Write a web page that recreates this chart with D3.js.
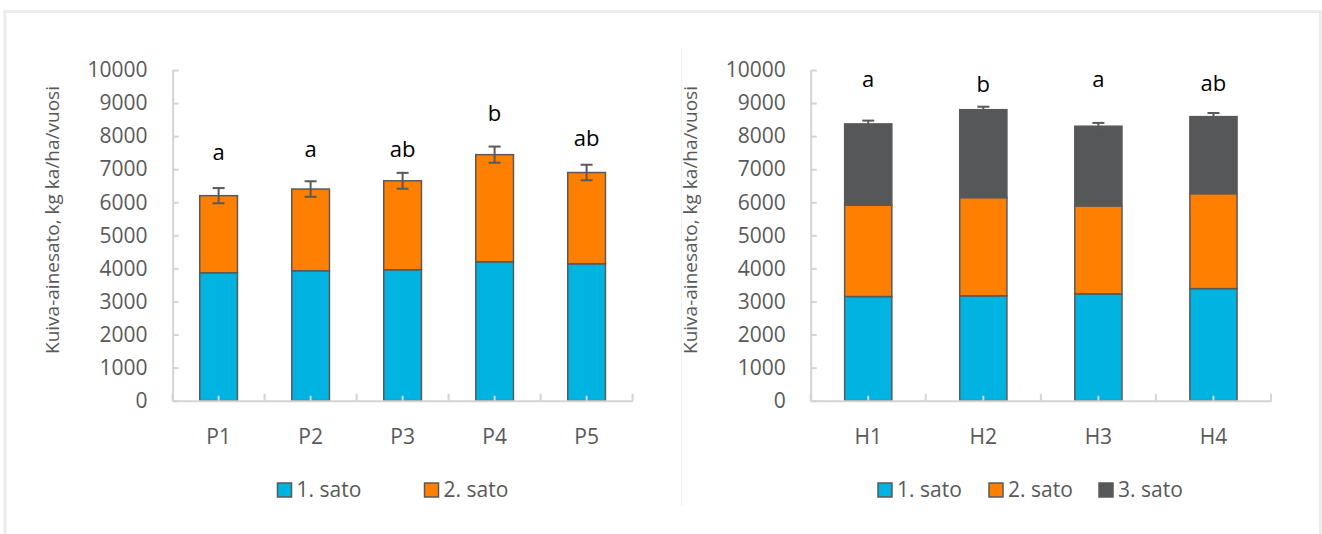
<!DOCTYPE html>
<html>
<head>
<meta charset="utf-8">
<script src="https://cdn.jsdelivr.net/npm/d3@7"></script>
<style>
  body { margin: 0; background: #fff; }
  svg text { font-family: "Open Sans", "Noto Sans", sans-serif; }
</style>
</head>
<body>
<div id="chart"></div>
<script>
// left chart: P treatments, two harvests
var pCats = ['P1', 'P2', 'P3', 'P4', 'P5'];
var pSato1 = [3870, 3930, 3960, 4200, 4140];
var pSato2 = [2330, 2470, 2690, 3240, 2760];
var pErr = [230, 235, 240, 245, 235];
var pLetters = ['a', 'a', 'ab', 'b', 'ab'];
var pLetterAt = [7280, 7380, 7380, 8470, 7710];

// right chart: H treatments, three harvests
var hCats = ['H1', 'H2', 'H3', 'H4'];
var hSato1 = [3150, 3170, 3230, 3390];
var hSato2 = [2760, 2970, 2660, 2870];
var hSato3 = [2460, 2660, 2410, 2330];
var hErr = [100, 90, 100, 110];
var hLetters = ['a', 'b', 'a', 'ab'];
var hLetterAt = [9490, 9345, 9490, 9375];

var yTicks = [0, 1000, 2000, 3000, 4000, 5000, 6000, 7000, 8000, 9000, 10000];
var seriesNames = ['1. sato', '2. sato', '3. sato'];
var colors = ['#00B3E0', '#FF8000', '#555759'];
var yTitle = 'Kuiva-ainesato, kg ka/ha/vuosi';

var width = 1322, height = 534;
var textGray = '#595959', axisGray = '#d4d4d4';
var fontSize = 21;

var svg = d3.select('#chart')
    .append('svg')
    .attr('width', width)
    .attr('height', height);

// outer frame
var frame = svg.append('g').attr('stroke', '#ededed').attr('fill', 'none');
frame.append('line').attr('x1', 3).attr('x2', 1322).attr('y1', 11.5).attr('y2', 11.5).attr('stroke-width', 3);
frame.append('line').attr('x1', 5).attr('x2', 5).attr('y1', 10).attr('y2', 534).attr('stroke-width', 3);
frame.append('line').attr('x1', 1320.5).attr('x2', 1320.5).attr('y1', 10).attr('y2', 534).attr('stroke-width', 3);
svg.append('line').attr('x1', 681.5).attr('x2', 681.5).attr('y1', 48).attr('y2', 506)
    .attr('stroke', '#f0f0f0').attr('stroke-width', 1);

function drawChart(cfg) {
    var g = svg.append('g');
    var rows = cfg.cats.map(function (c, i) {
        var r = { cat: c };
        cfg.series.forEach(function (s, k) { r[seriesNames[k]] = s[i]; });
        return r;
    });
    var keys = seriesNames.slice(0, cfg.series.length);

    var x = d3.scaleBand()
        .domain(cfg.cats)
        .range([cfg.x0, cfg.x1])
        .paddingInner(0.59)
        .paddingOuter(0.295);
    var y = d3.scaleLinear().domain([0, 10000]).range([400.7, 70]);

    // y axis
    var yAxis = g.append('g')
        .attr('transform', 'translate(' + cfg.x0 + ',0)')
        .call(d3.axisLeft(y).tickValues(yTicks).tickFormat(d3.format('d'))
            .tickSizeInner(-6).tickSizeOuter(0).tickPadding(25));
    yAxis.select('.domain').attr('stroke', axisGray).attr('stroke-width', 2);
    yAxis.selectAll('.tick line').attr('stroke', axisGray).attr('stroke-width', 2);
    yAxis.selectAll('text').attr('fill', textGray).attr('font-size', fontSize);

    // stacked bars
    var stacked = d3.stack().keys(keys)(rows);
    g.append('g').selectAll('g')
        .data(stacked)
        .enter().append('g')
        .attr('fill', function (d, i) { return colors[i]; })
        .selectAll('rect')
        .data(function (d) { return d; })
        .enter().append('rect')
        .attr('x', function (d) { return x(d.data.cat); })
        .attr('width', x.bandwidth())
        .attr('y', function (d) { return y(d[1]); })
        .attr('height', function (d) { return y(d[0]) - y(d[1]); })
        .attr('stroke', textGray)
        .attr('stroke-width', 1.5);

    // x axis
    var xAxis = g.append('g')
        .attr('transform', 'translate(0,' + y(0) + ')')
        .call(d3.axisBottom(x).tickSizeInner(-5).tickSizeOuter(0).tickPadding(28));
    xAxis.select('.domain').attr('stroke', axisGray).attr('stroke-width', 2);
    xAxis.selectAll('.tick line').attr('stroke', axisGray).attr('stroke-width', 2);
    xAxis.selectAll('text').attr('fill', textGray).attr('font-size', fontSize);
    // tick marks between categories
    var bounds = d3.range(cfg.cats.length + 1).map(function (i) { return cfg.x0 + i * x.step(); });
    xAxis.selectAll('.bound')
        .data(bounds)
        .enter().append('line')
        .attr('x1', function (d) { return d; })
        .attr('x2', function (d) { return d; })
        .attr('y1', 0).attr('y2', -7)
        .attr('stroke', axisGray).attr('stroke-width', 2);

    // error bars
    var totals = rows.map(function (r) { return d3.sum(keys, function (k) { return r[k]; }); });
    var eb = g.append('g').attr('stroke', textGray).attr('stroke-width', 2);
    cfg.cats.forEach(function (c, i) {
        var cx = x(c) + x.bandwidth() / 2;
        var lo = y(totals[i] - cfg.err[i]), hi = y(totals[i] + cfg.err[i]);
        eb.append('line').attr('x1', cx).attr('x2', cx).attr('y1', lo).attr('y2', hi);
        eb.append('line').attr('x1', cx - 6).attr('x2', cx + 6).attr('y1', lo).attr('y2', lo);
        eb.append('line').attr('x1', cx - 6).attr('x2', cx + 6).attr('y1', hi).attr('y2', hi);
    });

    // significance letters
    g.append('g').selectAll('text')
        .data(cfg.cats)
        .enter().append('text')
        .attr('x', function (d) { return x(d) + x.bandwidth() / 2; })
        .attr('y', function (d, i) { return y(cfg.letterAt[i]); })
        .attr('text-anchor', 'middle')
        .attr('font-size', 22)
        .attr('fill', '#000')
        .text(function (d, i) { return cfg.letters[i]; });

    // y title
    g.append('text')
        .attr('transform', 'translate(' + (cfg.x0 - 113.5) + ',220) rotate(-90)')
        .attr('text-anchor', 'middle')
        .attr('font-size', 19)
        .attr('fill', textGray)
        .text(yTitle);

    // legend
    var leg = g.append('g').selectAll('g')
        .data(keys)
        .enter().append('g')
        .attr('transform', function (d, i) { return 'translate(' + cfg.legendX[i] + ',0)'; });
    leg.append('rect')
        .attr('x', 0).attr('y', 483)
        .attr('width', 14).attr('height', 14)
        .attr('fill', function (d, i) { return colors[i]; })
        .attr('stroke', textGray).attr('stroke-width', 1.5);
    leg.append('text')
        .attr('x', 19).attr('y', 496.5)
        .attr('font-size', fontSize)
        .attr('fill', textGray)
        .text(function (d) { return d; });
}

drawChart({
    cats: pCats, series: [pSato1, pSato2], err: pErr,
    letters: pLetters, letterAt: pLetterAt,
    x0: 172.6, x1: 632.6, legendX: [277.5, 424.5]
});
drawChart({
    cats: hCats, series: [hSato1, hSato2, hSato3], err: hErr,
    letters: hLetters, letterAt: hLetterAt,
    x0: 810.7, x1: 1271, legendX: [878, 989, 1099]
});
</script>
</body>
</html>
